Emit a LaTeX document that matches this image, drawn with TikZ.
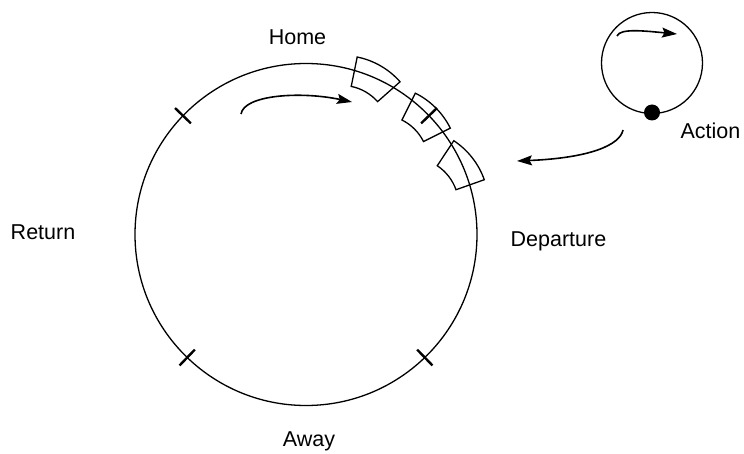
\documentclass[tikz,border=0pt]{standalone}
\usepackage{fontspec}
\setmainfont{Liberation Sans}
\usetikzlibrary{arrows.meta,calc}

\tikzset{
  ring/.style={line width=1.3pt},
  tickmark/.style={line width=2.4pt},
  flow/.style={line width=1.6pt,-{Stealth[length=15pt,width=10pt,inset=2.5pt]}},
  lbl/.style={font=\fontsize{21.5}{24}\selectfont,anchor=base,inner sep=0pt},
  pics/tile/.style={code={
    \draw[line width=1.3pt,shift={(-59.7,0)}]
      (-18.5:48) -- (-18.5:78) arc[start angle=-18.5,end angle=18.5,radius=78]
      -- (18.5:48) arc[start angle=18.5,end angle=-18.5,radius=48] -- cycle;
  }}
}

\begin{document}
\begin{tikzpicture}[x=1pt,y=1pt]
\useasboundingbox (0,0) rectangle (744,453);

% main cycle
\coordinate (C) at (306,218.5);
\draw[ring] (C) circle[radius=171];

% phase boundaries
\foreach \a in {136,-134,-46,44}
  \draw[tickmark] ($(C)+(\a:160)$) -- ($(C)+(\a:182)$);

% tiles riding the cycle
\pic[rotate=60] at (371.5,371.25) {tile};
\pic[rotate=45] at (422.75,332.25) {tile};
\pic[rotate=38] at (457.8,284) {tile};

% direction of travel
\coordinate (m0) at (241,339);
\coordinate (m1) at (352,351);
\draw[flow] (m0) .. controls (244,358) and (300,362) .. (m1);

% small cycle
\coordinate (S) at (652,390);
\draw[ring] (S) circle[radius=50.5];
\node[circle,fill=black,inner sep=0pt,minimum size=16pt] (dot) at (652,340.5) {};
\coordinate (s0) at (617,417);
\coordinate (s1) at (677,419);
\draw[flow] (s0) .. controls (620,425) and (645,422) .. (s1);

% hand-off to the main cycle
\coordinate (h0) at (623,323);
\coordinate (h1) at (517,292);
\draw[flow] (h0) .. controls (620,308) and (590,295) .. (h1);

% labels
\node[lbl] (home) at (297.5,408) {Home};
\node[lbl] (ret) at (43,214) {Return};
\node[lbl] (dep) at (558.5,206) {Departure};
\node[lbl] (away) at (309,7) {Away};
\node[lbl] (act) at (710.5,314) {Action};
\end{tikzpicture}
\end{document}
